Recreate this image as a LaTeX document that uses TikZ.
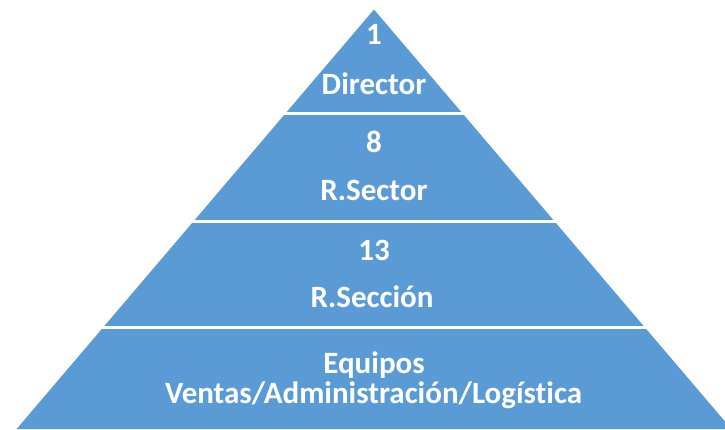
\documentclass[tikz,border=0pt]{standalone}
\usepackage{fontspec}
\setmainfont[Ligatures=NoCommon]{Carlito}
\definecolor{pyrblue}{HTML}{5B9BD5}

\begin{document}
\begin{tikzpicture}[x=1pt,y=-1pt]
\tikzstyle{layer}=[fill=pyrblue,draw=none]
\tikzstyle{gap}=[draw=white,line width=3pt]
\tikzstyle{lbl}=[text=white,anchor=base,inner sep=0pt,font=\bfseries\fontsize{31}{31}\selectfont]
\useasboundingbox (0,0) rectangle (725,429);
\clip (0,0) rectangle (725,429);
% the pyramid
\path (374,9.5) coordinate(apex) (16.6,429) coordinate(bl) (731.4,429) coordinate(br);
\fill[layer] (apex) -- (br) -- (bl) -- cycle;
\draw[gap] (0,113.5) -- (725,113.5);
\draw[gap] (0,221) -- (725,221);
\draw[gap] (0,327.7) -- (725,327.7);

% levels
\path (374,44) node[lbl](n1){1} (374,94) node[lbl](director){Director};
\path (374,152) node[lbl](n8){8} (374,200) node[lbl](sector){R.Sector};
\path (374,260) node[lbl](n13){13} (372,307) node[lbl](seccion){R.Sección};
\path (374,373) node[lbl](equipos){Equipos}
      (373.5,403) node[lbl](areas){Ventas/Administración/Logística};
\end{tikzpicture}
\end{document}
